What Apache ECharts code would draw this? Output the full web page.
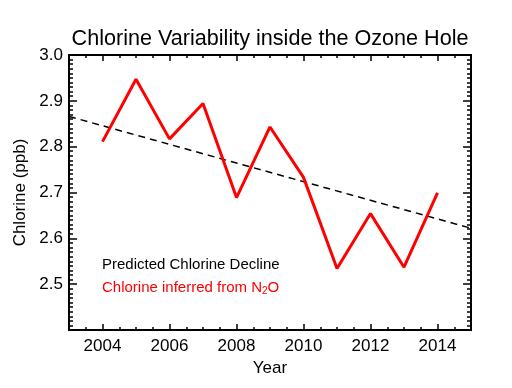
<!DOCTYPE html>
<html>
<head>
<meta charset="utf-8">
<script src="https://cdn.jsdelivr.net/npm/echarts@6/dist/echarts.min.js"></script>
<style>
html,body{margin:0;padding:0;background:#fff;}
#chart{width:512px;height:388px;}
</style>
</head>
<body>
<div id="chart"></div>
<script>
var years = [2004, 2005, 2006, 2007, 2008, 2009, 2010, 2011, 2012, 2013, 2014];
var chlorineN2O = [2.811, 2.947, 2.817, 2.894, 2.689, 2.843, 2.733, 2.534, 2.654, 2.537, 2.699];
var trendYears = [2003, 2015];
var trendValues = [2.866, 2.622];
var xTickLabels = [2004, 2006, 2008, 2010, 2012, 2014];
var titleText = 'Chlorine Variability inside the Ozone Hole';
var legendPredicted = 'Predicted Chlorine Decline';

var FONT = 'Liberation Sans, Arial, sans-serif';
var chart = echarts.init(document.getElementById('chart'));

function pairs(xs, ys) { return xs.map(function (x, i) { return [x, ys[i]]; }); }

var axisLine = { show: true, onZero: false, lineStyle: { color: '#000', width: 2 } };

var baseX = {
  type: 'value', min: 2003, max: 2015, gridIndex: 0,
  axisLine: axisLine, splitLine: { show: false }
};

var option = {
  animation: false,
  backgroundColor: '#fff',
  grid: { left: 69, right: 41, top: 55, bottom: 58 },
  xAxis: [
    Object.assign({}, baseX, {
      position: 'bottom',
      axisTick: { show: true, inside: true, length: 6, lineStyle: { color: '#000', width: 1.5 }, customValues: xTickLabels },
      axisLabel: { show: true, customValues: xTickLabels, margin: 8, color: '#000', fontFamily: FONT, fontSize: 17,
        formatter: function (v) { return String(v); } },
      name: 'Year', nameLocation: 'middle', nameGap: 24,
      nameTextStyle: { fontFamily: FONT, fontSize: 17, color: '#000' }
    }),
    Object.assign({}, baseX, {
      position: 'bottom', interval: 0.5,
      axisTick: { show: true, inside: true, length: 3, lineStyle: { color: '#000', width: 1.5 } },
      axisLabel: { show: false }
    }),
    Object.assign({}, baseX, {
      position: 'top',
      axisTick: { show: true, inside: true, length: 6, lineStyle: { color: '#000', width: 1.5 }, customValues: xTickLabels },
      axisLabel: { show: false }
    }),
    Object.assign({}, baseX, {
      position: 'top', interval: 0.5,
      axisTick: { show: true, inside: true, length: 3, lineStyle: { color: '#000', width: 1.5 } },
      axisLabel: { show: false }
    })
  ],
  yAxis: [
    {
      type: 'value', min: 2.4, max: 3.0, interval: 0.1, position: 'left',
      axisLine: axisLine, splitLine: { show: false },
      axisTick: { show: true, inside: true, length: 8, lineStyle: { color: '#000', width: 1.5 } },
      minorTick: { show: true, splitNumber: 10, length: 4, lineStyle: { color: '#000', width: 1.5 } },
      axisLabel: { margin: 6, color: '#000', fontFamily: FONT, fontSize: 17,
        formatter: function (v) { return v < 2.45 ? '' : v.toFixed(1); } },
      name: 'Chlorine (ppb)', nameLocation: 'middle', nameGap: 35,
      nameTextStyle: { fontFamily: FONT, fontSize: 17, color: '#000' }
    },
    {
      type: 'value', min: 2.4, max: 3.0, interval: 0.1, position: 'right',
      axisLine: axisLine, splitLine: { show: false },
      axisTick: { show: true, inside: true, length: 8, lineStyle: { color: '#000', width: 1.5 } },
      minorTick: { show: true, splitNumber: 10, length: 4, lineStyle: { color: '#000', width: 1.5 } },
      axisLabel: { show: false }
    }
  ],
  graphic: [
    { type: 'text', x: 270, y: 39,
      style: { text: titleText, fill: '#000', font: '21.6px ' + FONT, align: 'center', verticalAlign: 'middle' } },
    { type: 'text', left: 102, top: 257,
      style: { text: legendPredicted, fill: '#000', font: '15px ' + FONT } },
    { type: 'text', left: 102, top: 280,
      style: { text: '{a|Chlorine inferred from N}{s|2}{a|O}',
        rich: { a: { fill: '#ff0000', fontSize: 15, fontFamily: FONT },
                s: { fill: '#ff0000', fontSize: 10, fontFamily: FONT, padding: [8, 0, 0, 0] } } } }
  ],
  series: [
    {
      type: 'line', data: pairs(trendYears, trendValues), xAxisIndex: 0, yAxisIndex: 0,
      symbol: 'none', lineStyle: { color: '#000', width: 1.5, type: [7, 5] }, z: 2
    },
    {
      type: 'line', data: pairs(years, chlorineN2O), xAxisIndex: 0, yAxisIndex: 0,
      symbol: 'none', lineStyle: { color: '#ff0000', width: 3 }, z: 3
    }
  ]
};
chart.setOption(option);
</script>
</body>
</html>
